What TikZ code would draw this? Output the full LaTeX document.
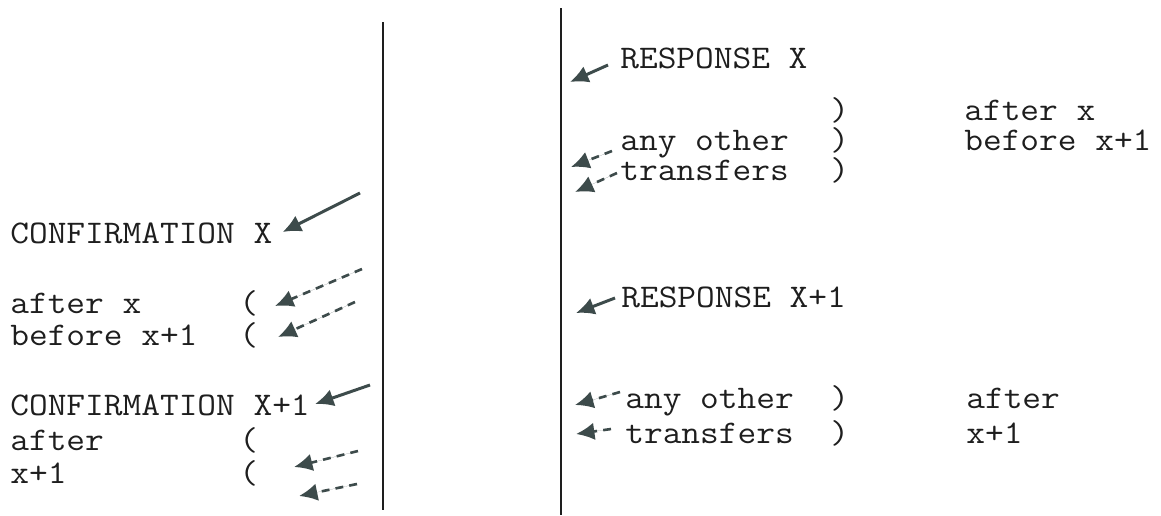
\documentclass[tikz,border=0pt]{standalone}
\usepackage{fontspec}
\setmonofont{Latin Modern Mono}[FakeStretch=1.1]
\usetikzlibrary{arrows.meta,calc}
\definecolor{ink}{HTML}{1E1E1E}
\definecolor{slate}{HTML}{3D4B4B}
\newcommand{\typefont}{\fontsize{18.8pt}{20pt}\selectfont\ttfamily}

\begin{document}
\begin{tikzpicture}[x=0.02cm, y=-0.02cm,
  lbl/.style={anchor=base west, inner sep=0pt, font=\typefont, text=ink},
  bar/.style={line width=1.7pt, draw=ink},
  sendarrow/.style={line width=1.7pt, draw=slate, fill=slate, -{Latex[length=10.5pt,width=10pt]}},
  otherarrow/.style={sendarrow, line width=1.5pt, dash pattern=on 4.5pt off 3.5pt}]
  \useasboundingbox (0,0) rectangle (1161,515);

  % the two time lines
  \coordinate (ltop) at (383,22);
  \coordinate (lbot) at (383,510);
  \coordinate (rtop) at (561,8);
  \coordinate (rbot) at (561,515);
  \draw[bar] (ltop) -- (lbot);
  \draw[bar] (rtop) -- (rbot);

  % left column
  \node[lbl] (confx) at (10,243) {CONFIRMATION X};
  \node[lbl] (aftx) at (10,313) {after x};
  \node[lbl] (aftxpar) at (239,313) {(};
  \node[lbl] (befx) at (10,345) {before x+1};
  \node[lbl] (befxpar) at (239,345) {(};
  \node[lbl] (confy) at (10,415) {CONFIRMATION X+1};
  \node[lbl] (afty) at (10,450) {after};
  \node[lbl] (aftypar) at (239,450) {(};
  \node[lbl] (xone) at (10,483) {x+1};
  \node[lbl] (xonepar) at (239,483) {(};

  % right column
  \node[lbl] (respx) at (620,68) {RESPONSE X};
  \node[lbl] (toppar) at (830,120) {)};
  \node[lbl] (anyx) at (620,150) {any other};
  \node[lbl] (anyxpar) at (830,150) {)};
  \node[lbl] (transx) at (620,180) {transfers};
  \node[lbl] (transxpar) at (830,180) {)};
  \node[lbl] (notex) at (964,120) {after x};
  \node[lbl] (notexb) at (964,150) {before x+1};
  \node[lbl] (respy) at (621,307) {RESPONSE X+1};
  \node[lbl] (anyy) at (625,408) {any other};
  \node[lbl] (anyypar) at (830,408) {)};
  \node[lbl] (transy) at (625,443) {transfers};
  \node[lbl] (transypar) at (830,443) {)};
  \node[lbl] (notey) at (966,408) {after};
  \node[lbl] (noteyb) at (966,443) {x+1};

  % tails on the left, tips on the right
  \coordinate (cxa) at (360,193);
  \coordinate (cya) at (370,385);
  \coordinate (oxa) at (362,269);
  \coordinate (oxb) at (355,302);
  \coordinate (oya) at (358,451);
  \coordinate (oyb) at (357,484);
  \coordinate (rxa) at (570,82);
  \coordinate (txa) at (571,167);
  \coordinate (txb) at (575,192);
  \coordinate (rya) at (576,313);
  \coordinate (tya) at (575,405);
  \coordinate (tyb) at (576,434);

  \draw[sendarrow] (cxa) -- ($(confx.base east)+(10,-11)$);
  \draw[sendarrow] (cya) -- ($(confy.base east)+(5,-11)$);
  \draw[otherarrow] (oxa) -- ($(aftxpar.base west)+(36,-7)$);
  \draw[otherarrow] (oxb) -- ($(befxpar.base west)+(39,-8)$);
  \draw[otherarrow] (oya) -- ($(xonepar.base west)+(55,-16)$);
  \draw[otherarrow] (oyb) -- ($(xonepar.base west)+(60,13)$);

  \draw[sendarrow] ($(respx.base west)+(-12,-3)$) -- (rxa);
  \draw[otherarrow] ($(anyx.base west)+(-8,1)$) -- (txa);
  \draw[otherarrow] ($(transx.base west)+(-3,-7)$) -- (txb);
  \draw[sendarrow] ($(respy.base west)+(-6,-9)$) -- (rya);
  \draw[otherarrow] ($(anyy.base west)+(-5,-16)$) -- (tya);
  \draw[otherarrow] ($(transy.base west)+(-14,-14)$) -- (tyb);
\end{tikzpicture}
\end{document}
